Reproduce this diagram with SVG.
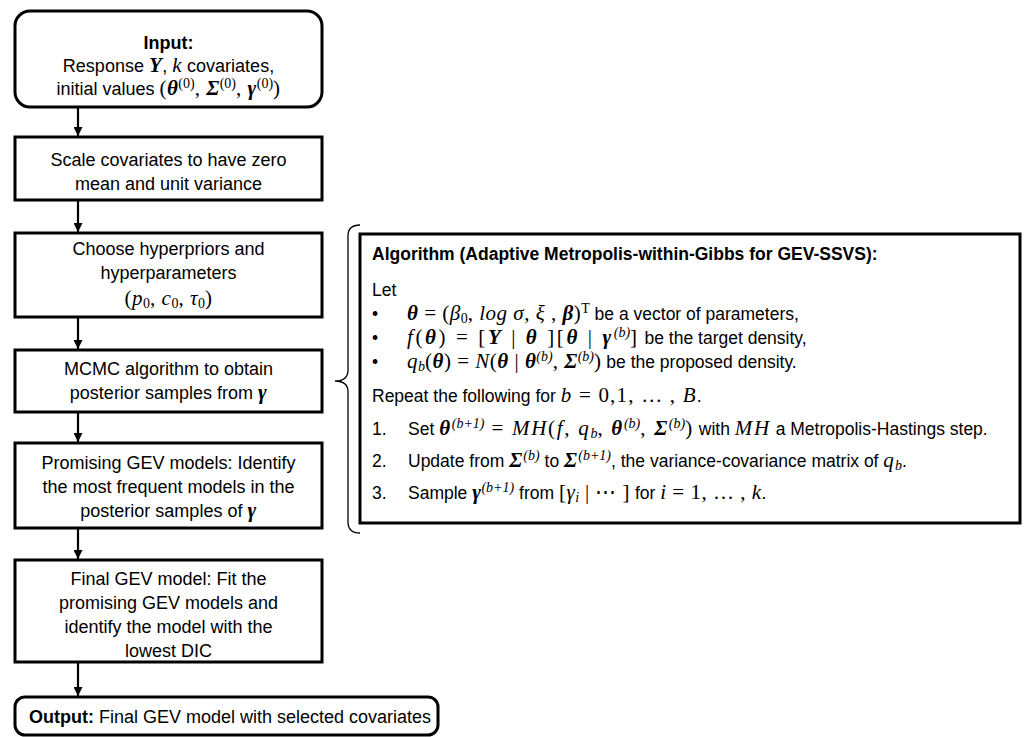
<svg xmlns="http://www.w3.org/2000/svg" width="1026" height="737" viewBox="0 0 1026 737">
<style>
.box{fill:#fff;stroke:#000;stroke-width:3}
.t{font-family:"Liberation Sans",Arial,sans-serif;font-size:18px;fill:#000}
.a{font-size:17.5px}
.c{text-anchor:middle}
.b{font-weight:bold}
.m{font-family:"Liberation Serif","Times New Roman",serif;font-style:italic;font-size:21px;letter-spacing:0.5px}
.mb{font-family:"Liberation Serif","Times New Roman",serif;font-style:italic;font-weight:bold;font-size:21px;letter-spacing:0.5px}
.mr{font-family:"Liberation Serif","Times New Roman",serif;font-style:normal;font-size:21px;letter-spacing:0.5px}
.sp{font-family:"Liberation Serif","Times New Roman",serif;font-style:normal;font-size:14px}
.spi{font-family:"Liberation Serif","Times New Roman",serif;font-style:italic;font-size:14px}
.w1 .m,.w1 .mb,.w1 .mr{letter-spacing:1.7px}
.w2 .m,.w2 .mb,.w2 .mr{letter-spacing:2.6px}
.w3 .m,.w3 .mb,.w3 .mr{letter-spacing:1.2px}
.con{stroke:#000;stroke-width:2.2;fill:none}
</style>
<defs>
<marker id="ah" viewBox="0 0 10 10" refX="10" refY="5" markerWidth="10" markerHeight="9" markerUnits="userSpaceOnUse" orient="auto"><path d="M0,0 L10,5 L0,10 z" fill="#000"/></marker>
</defs>
<rect width="1026" height="737" fill="#fff"/>
<g id="connectors">
<line class="con" x1="78" y1="107" x2="78" y2="136" marker-end="url(#ah)"/>
<line class="con" x1="78" y1="200" x2="78" y2="232" marker-end="url(#ah)"/>
<line class="con" x1="78" y1="317" x2="78" y2="349" marker-end="url(#ah)"/>
<line class="con" x1="78" y1="412" x2="78" y2="442" marker-end="url(#ah)"/>
<line class="con" x1="78" y1="528" x2="78" y2="559" marker-end="url(#ah)"/>
<line class="con" x1="78" y1="662" x2="78" y2="696" marker-end="url(#ah)"/>
<path id="brace" d="M360,225 Q348,225 348,236 L348,370 Q348,381 335,381 Q348,381 348,392 L348,522 Q348,533 360,533" fill="none" stroke="#000" stroke-width="1.3"/>
</g>
<g id="input">
<rect class="box" x="15" y="11" width="307" height="96" rx="15"/>
<text class="t c b" x="168.5" y="49">Input:</text>
<text class="t c" x="168.5" y="72">Response <tspan class="mb">Y</tspan>, <tspan class="m">k</tspan> covariates,</text>
<text class="t c" x="168.5" y="95">initial values <tspan class="mr">(</tspan><tspan class="mb">θ</tspan><tspan class="sp" baseline-shift="super">(0)</tspan><tspan class="mr">, </tspan><tspan class="mb">Σ</tspan><tspan class="sp" baseline-shift="super">(0)</tspan><tspan class="mr">, </tspan><tspan class="mb">γ</tspan><tspan class="sp" baseline-shift="super">(0)</tspan><tspan class="mr">)</tspan></text>
</g>
<g id="scale">
<rect class="box" x="15" y="137" width="307" height="63"/>
<text class="t c" x="168.5" y="166">Scale covariates to have zero</text>
<text class="t c" x="168.5" y="190">mean and unit variance</text>
</g>
<g id="choose">
<rect class="box" x="15" y="233" width="307" height="84"/>
<text class="t c" x="168.5" y="255">Choose hyperpriors and</text>
<text class="t c" x="168.5" y="279">hyperparameters</text>
<text class="t c" x="168.5" y="305"><tspan class="mr">(</tspan><tspan class="m">p</tspan><tspan class="sp" baseline-shift="-3">0</tspan><tspan class="mr">, </tspan><tspan class="m">c</tspan><tspan class="sp" baseline-shift="-3">0</tspan><tspan class="mr">, </tspan><tspan class="m">τ</tspan><tspan class="sp" baseline-shift="-3">0</tspan><tspan class="mr">)</tspan></text>
</g>
<g id="mcmc">
<rect class="box" x="15" y="350" width="307" height="62"/>
<text class="t c" x="168.5" y="375">MCMC algorithm to obtain</text>
<text class="t c" x="168.5" y="399">posterior samples from <tspan class="mb">γ</tspan></text>
</g>
<g id="promising">
<rect class="box" x="15" y="443" width="307" height="85"/>
<text class="t c" x="168.5" y="469">Promising GEV models: Identify</text>
<text class="t c" x="168.5" y="493">the most frequent models in the</text>
<text class="t c" x="168.5" y="517">posterior samples of <tspan class="mb">γ</tspan></text>
</g>
<g id="final">
<rect class="box" x="15" y="560" width="307" height="102"/>
<text class="t c" x="168.5" y="585">Final GEV model: Fit the</text>
<text class="t c" x="168.5" y="609">promising GEV models and</text>
<text class="t c" x="168.5" y="633">identify the model with the</text>
<text class="t c" x="168.5" y="657">lowest DIC</text>
</g>
<g id="output">
<rect class="box" x="15" y="697" width="423" height="38" rx="10"/>
<text class="t" x="29" y="723"><tspan class="b">Output:</tspan> Final GEV model with selected covariates</text>
</g>
<g id="algorithm">
<rect class="box" x="360" y="234" width="660" height="289"/>
<text class="t a b" x="372" y="260">Algorithm (Adaptive Metropolis-within-Gibbs for GEV-SSVS):</text>
<text class="t a" x="372" y="296">Let</text>
<text class="t a" x="372" y="320">•</text>
<text class="t a" x="407" y="320"><tspan class="mb">θ</tspan><tspan class="mr"> = (</tspan><tspan class="m">β</tspan><tspan class="sp" baseline-shift="-3">0</tspan><tspan class="mr">, </tspan><tspan class="m">log σ</tspan><tspan class="mr">, </tspan><tspan class="m">ξ</tspan><tspan class="mr"> , </tspan><tspan class="mb">β</tspan><tspan class="mr">)</tspan><tspan class="sp" baseline-shift="super">T</tspan> be a vector of parameters,</text>
<text class="t a" x="372" y="344">•</text>
<text class="t a w2" x="407" y="344"><tspan class="m">f</tspan><tspan class="mr">(</tspan><tspan class="mb">θ</tspan><tspan class="mr">) = [</tspan><tspan class="mb">Y</tspan><tspan class="mr"> | </tspan><tspan class="mb">θ</tspan><tspan class="mr"> ][</tspan><tspan class="mb">θ</tspan><tspan class="mr"> | </tspan><tspan class="mb">γ</tspan><tspan class="spi" baseline-shift="super">(b)</tspan><tspan class="mr">]</tspan> be the target density,</text>
<text class="t a" x="372" y="368">•</text>
<text class="t a" x="407" y="368"><tspan class="m">q</tspan><tspan class="spi" baseline-shift="-3">b</tspan><tspan class="mr">(</tspan><tspan class="mb">θ</tspan><tspan class="mr">) = </tspan><tspan class="m">N</tspan><tspan class="mr">(</tspan><tspan class="mb">θ</tspan><tspan class="mr"> | </tspan><tspan class="mb">θ</tspan><tspan class="spi" baseline-shift="super">(b)</tspan><tspan class="mr">, </tspan><tspan class="mb">Σ</tspan><tspan class="spi" baseline-shift="super">(b)</tspan><tspan class="mr">)</tspan> be the proposed density.</text>
<text class="t a w3" x="372" y="402">Repeat the following for <tspan class="m">b</tspan><tspan class="mr"> = 0,1, … , </tspan><tspan class="m">B</tspan>.</text>
<text class="t a" x="372" y="435">1.</text>
<text class="t a w1" x="408" y="435">Set <tspan class="mb">θ</tspan><tspan class="spi" baseline-shift="super">(b+1)</tspan><tspan class="mr"> = </tspan><tspan class="m">MH</tspan><tspan class="mr">(</tspan><tspan class="m">f</tspan><tspan class="mr">, </tspan><tspan class="m">q</tspan><tspan class="spi" baseline-shift="-3">b</tspan><tspan class="mr">, </tspan><tspan class="mb">θ</tspan><tspan class="spi" baseline-shift="super">(b)</tspan><tspan class="mr">, </tspan><tspan class="mb">Σ</tspan><tspan class="spi" baseline-shift="super">(b)</tspan><tspan class="mr">)</tspan> with <tspan class="m">MH</tspan> a Metropolis-Hastings step.</text>
<text class="t a" x="372" y="467">2.</text>
<text class="t a w3" x="408" y="467">Update from <tspan class="mb">Σ</tspan><tspan class="spi" baseline-shift="super">(b)</tspan> to <tspan class="mb">Σ</tspan><tspan class="spi" baseline-shift="super">(b+1)</tspan>, the variance-covariance matrix of <tspan class="m">q</tspan><tspan class="spi" baseline-shift="-3">b</tspan>.</text>
<text class="t a" x="372" y="499">3.</text>
<text class="t a" x="408" y="499">Sample <tspan class="mb">γ</tspan><tspan class="spi" baseline-shift="super">(b+1)</tspan> from <tspan class="mr">[</tspan><tspan class="m">γ</tspan><tspan class="spi" baseline-shift="-3">i</tspan><tspan class="mr"> | ⋯ ]</tspan> for <tspan class="m">i</tspan><tspan class="mr"> = 1, … , </tspan><tspan class="m">k</tspan>.</text>
</g>
</svg>
